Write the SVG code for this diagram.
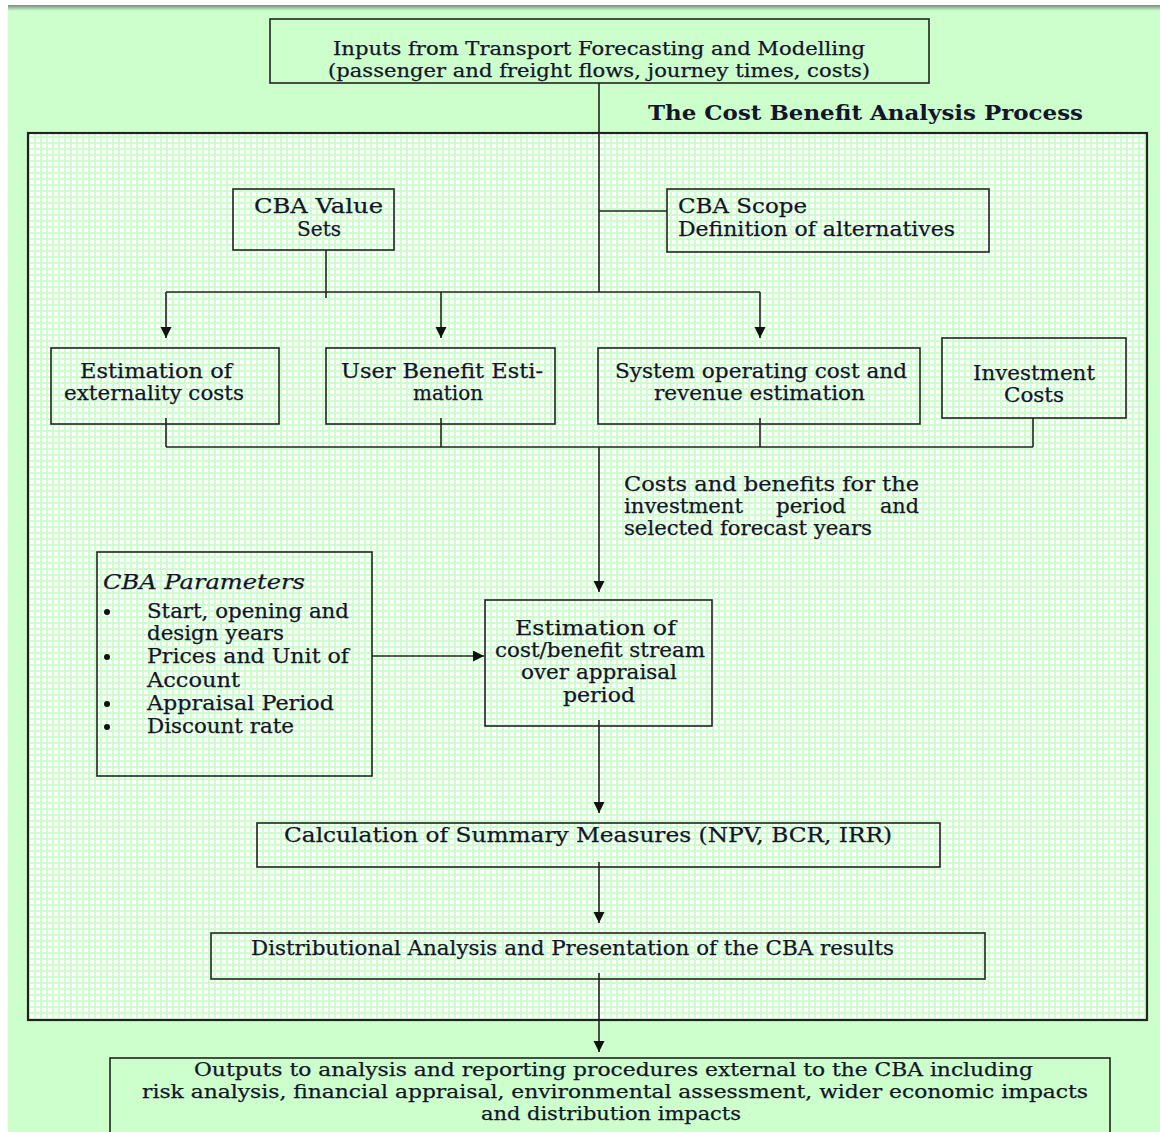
<svg xmlns="http://www.w3.org/2000/svg" width="1160" height="1132" viewBox="0 0 1160 1132">
<style>
.t{font-family:"DejaVu Serif","Liberation Serif",serif;font-size:20px;fill:#14142a;stroke:#14142a;stroke-width:0.25}
.s{font-size:18.5px}
.ti{font-family:"DejaVu Serif","Liberation Serif",serif;font-size:21px;font-weight:bold;fill:#14142a}
.it{font-style:italic}
.box{fill:none;stroke:#222;stroke-width:1.6}
.ln{fill:none;stroke:#222;stroke-width:1.6}
.ar{fill:none;stroke:#222;stroke-width:1.6;marker-end:url(#ah)}
</style>
<defs>
<pattern id="grid" width="6" height="6" patternUnits="userSpaceOnUse">
<rect width="6" height="6" fill="#ccffcc"/>
<rect x="0" y="0" width="4" height="4" fill="#ffffff"/>
</pattern>
<linearGradient id="shadow" x1="0" y1="0" x2="0" y2="1">
<stop offset="0" stop-color="#7c8a7c"/>
<stop offset="1" stop-color="#ccffcc"/>
</linearGradient>
<marker id="ah" markerUnits="userSpaceOnUse" markerWidth="12" markerHeight="12" refX="11" refY="5.5" orient="auto">
<path d="M0,0 L11,5.5 L0,11 z" fill="#111"/>
</marker>
</defs>
<rect width="1160" height="1132" fill="#ffffff"/>
<rect x="8" y="5" width="1152" height="1127" fill="#ccffcc"/>
<rect x="8" y="5" width="1152" height="6" fill="url(#shadow)"/>

<g id="process-frame">
<rect x="28" y="133" width="1119" height="887" fill="url(#grid)" stroke="#222" stroke-width="2.2"/>
<text class="ti" x="648" y="120" textLength="435" lengthAdjust="spacingAndGlyphs">The Cost Benefit Analysis Process</text>
</g>

<g id="connectors">
<line class="ln" x1="599" y1="83" x2="599" y2="292"/>
<line class="ln" x1="599" y1="211" x2="667" y2="211"/>
<line class="ln" x1="326" y1="250" x2="326" y2="298"/>
<line class="ln" x1="166" y1="292" x2="760" y2="292"/>
<line class="ar" x1="166" y1="292" x2="166" y2="338"/>
<line class="ar" x1="441" y1="292" x2="441" y2="338"/>
<line class="ar" x1="760" y1="292" x2="760" y2="338"/>
<line class="ln" x1="166" y1="418" x2="166" y2="447"/>
<line class="ln" x1="441" y1="418" x2="441" y2="447"/>
<line class="ln" x1="760" y1="418" x2="760" y2="447"/>
<line class="ln" x1="1033" y1="418" x2="1033" y2="447"/>
<line class="ln" x1="166" y1="447" x2="1033" y2="447"/>
<line class="ar" x1="599" y1="447" x2="599" y2="592"/>
<line class="ar" x1="372" y1="656" x2="484" y2="656"/>
<line class="ar" x1="599" y1="720" x2="599" y2="813"/>
<line class="ar" x1="599" y1="862" x2="599" y2="923"/>
<line class="ar" x1="599" y1="973" x2="599" y2="1052"/>
</g>

<g id="inputs">
<rect class="box" x="270" y="19" width="659" height="64"/>
<text class="t s" x="333" y="55" textLength="532" lengthAdjust="spacingAndGlyphs">Inputs from Transport Forecasting and Modelling</text>
<text class="t s" x="328" y="77" textLength="542" lengthAdjust="spacingAndGlyphs">(passenger and freight flows, journey times, costs)</text>
</g>

<g id="value-sets">
<rect class="box" x="233" y="189" width="161" height="61"/>
<text class="t" x="254" y="213" textLength="129" lengthAdjust="spacingAndGlyphs">CBA Value</text>
<text class="t" x="297" y="236" textLength="44" lengthAdjust="spacingAndGlyphs">Sets</text>
</g>

<g id="scope">
<rect class="box" x="667" y="189" width="322" height="63"/>
<text class="t" x="678" y="213" textLength="129" lengthAdjust="spacingAndGlyphs">CBA Scope</text>
<text class="t" x="678" y="236" textLength="277" lengthAdjust="spacingAndGlyphs">Definition of alternatives</text>
</g>

<g id="externality">
<rect class="box" x="51" y="348" width="228" height="76"/>
<text class="t" x="80" y="378" textLength="152" lengthAdjust="spacingAndGlyphs">Estimation of</text>
<text class="t" x="64" y="400" textLength="180" lengthAdjust="spacingAndGlyphs">externality costs</text>
</g>

<g id="user-benefit">
<rect class="box" x="326" y="348" width="229" height="76"/>
<text class="t" x="341" y="378" textLength="202" lengthAdjust="spacingAndGlyphs">User Benefit Esti-</text>
<text class="t" x="413" y="400" textLength="70" lengthAdjust="spacingAndGlyphs">mation</text>
</g>

<g id="system-operating">
<rect class="box" x="598" y="348" width="322" height="76"/>
<text class="t" x="615" y="378" textLength="292" lengthAdjust="spacingAndGlyphs">System operating cost and</text>
<text class="t" x="654" y="400" textLength="211" lengthAdjust="spacingAndGlyphs">revenue estimation</text>
</g>

<g id="investment">
<rect class="box" x="942" y="338" width="184" height="80"/>
<text class="t" x="973" y="380" textLength="122" lengthAdjust="spacingAndGlyphs">Investment</text>
<text class="t" x="1004" y="402" textLength="60" lengthAdjust="spacingAndGlyphs">Costs</text>
</g>

<g id="costs-label">
<text class="t" x="624" y="491" textLength="295" lengthAdjust="spacingAndGlyphs">Costs and benefits for the</text>
<text class="t" x="624" y="513" textLength="119" lengthAdjust="spacingAndGlyphs">investment</text>
<text class="t" x="776" y="513" textLength="70" lengthAdjust="spacingAndGlyphs">period</text>
<text class="t" x="880" y="513" textLength="39" lengthAdjust="spacingAndGlyphs">and</text>
<text class="t" x="624" y="535" textLength="248" lengthAdjust="spacingAndGlyphs">selected forecast years</text>
</g>

<g id="parameters">
<rect class="box" x="97" y="552" width="275" height="224"/>
<text class="t it" x="103" y="589" textLength="202" lengthAdjust="spacingAndGlyphs">CBA Parameters</text>
<circle cx="107" cy="612" r="3" fill="#111"/>
<circle cx="107" cy="657" r="3" fill="#111"/>
<circle cx="107" cy="704" r="3" fill="#111"/>
<circle cx="107" cy="727" r="3" fill="#111"/>
<text class="t" x="147" y="618" textLength="202" lengthAdjust="spacingAndGlyphs">Start, opening and</text>
<text class="t" x="147" y="640" textLength="137" lengthAdjust="spacingAndGlyphs">design years</text>
<text class="t" x="147" y="663" textLength="202" lengthAdjust="spacingAndGlyphs">Prices and Unit of</text>
<text class="t" x="147" y="687" textLength="93" lengthAdjust="spacingAndGlyphs">Account</text>
<text class="t" x="147" y="710" textLength="187" lengthAdjust="spacingAndGlyphs">Appraisal Period</text>
<text class="t" x="147" y="733" textLength="147" lengthAdjust="spacingAndGlyphs">Discount rate</text>
</g>

<g id="stream-estimation">
<rect class="box" x="485" y="600" width="227" height="126"/>
<text class="t" x="515" y="635" textLength="161" lengthAdjust="spacingAndGlyphs">Estimation of</text>
<text class="t" x="495" y="657" textLength="210" lengthAdjust="spacingAndGlyphs">cost/benefit stream</text>
<text class="t" x="521" y="679" textLength="156" lengthAdjust="spacingAndGlyphs">over appraisal</text>
<text class="t" x="563" y="702" textLength="72" lengthAdjust="spacingAndGlyphs">period</text>
</g>

<g id="summary-measures">
<rect class="box" x="257" y="823" width="683" height="44"/>
<text class="t" x="284" y="842" textLength="608" lengthAdjust="spacingAndGlyphs">Calculation of Summary Measures (NPV, BCR, IRR)</text>
</g>

<g id="distributional">
<rect class="box" x="211" y="933" width="774" height="46"/>
<text class="t" x="251" y="955" textLength="643" lengthAdjust="spacingAndGlyphs">Distributional Analysis and Presentation of the CBA results</text>
</g>

<g id="outputs">
<rect class="box" x="110" y="1058" width="1000" height="80"/>
<text class="t s" x="194" y="1076" textLength="839" lengthAdjust="spacingAndGlyphs">Outputs to analysis and reporting procedures external to the CBA including</text>
<text class="t s" x="142" y="1098" textLength="946" lengthAdjust="spacingAndGlyphs">risk analysis, financial appraisal, environmental assessment, wider economic impacts</text>
<text class="t s" x="481" y="1120" textLength="260" lengthAdjust="spacingAndGlyphs">and distribution impacts</text>
</g>
</svg>
